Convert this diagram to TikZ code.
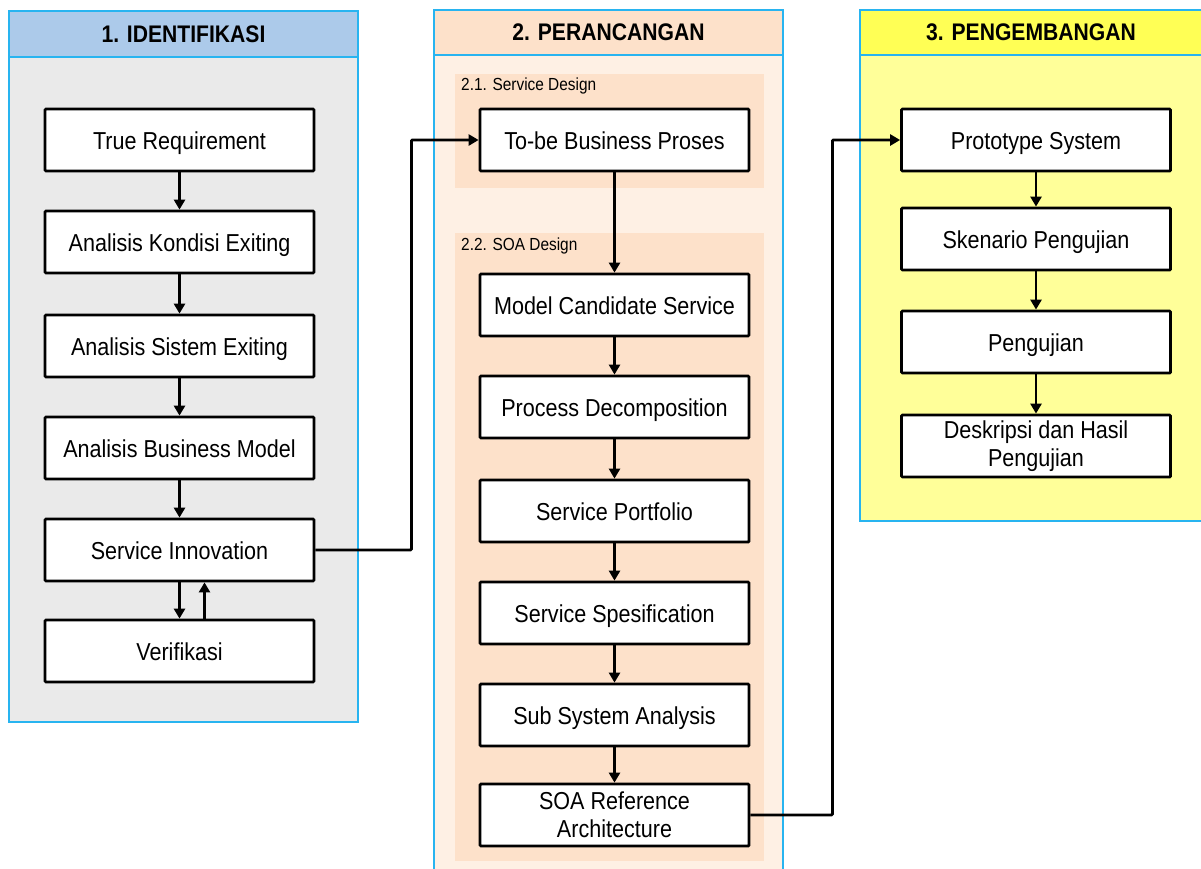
\documentclass[tikz,border=0pt]{standalone}
\usepackage{fontspec}
\setmainfont{Liberation Sans}[FakeStretch=0.88]
\usetikzlibrary{arrows.meta}
\definecolor{pborder}{RGB}{40,180,240}
\definecolor{hblue}{RGB}{172,202,234}
\definecolor{bgray}{RGB}{234,234,234}
\definecolor{hpeach}{RGB}{253,225,202}
\definecolor{bpeach}{RGB}{254,240,228}
\definecolor{hyellow}{RGB}{255,255,85}
\definecolor{byellow}{RGB}{255,255,153}
\begin{document}
\begin{tikzpicture}[x=1pt,y=-1pt,
  box/.style={draw=black, line width=2.8pt, fill=white, minimum width=269pt, minimum height=62pt, inner sep=0pt, align=center, font=\fontsize{24.5}{28}\selectfont, rounded corners=1pt},
  box1/.style={box, text height=19pt, text depth=0pt},
  conn/.style={line width=2.8pt, -{Triangle[length=10pt,width=11pt]}},
  hdr/.style={font=\bfseries\fontsize{24}{28}\selectfont},
  sublabel/.style={font=\fontsize{17.5}{20}\selectfont, anchor=west, inner sep=0pt},
  panel/.style={draw=pborder, line width=1.4pt}]
\useasboundingbox (0,0) rectangle (1201,868);
\begin{scope}
\clip (0,0) rectangle (1201,868);
% panel 1
\fill[hblue] (9,11) rectangle (358,57);
\fill[bgray] (9,57) rectangle (358,722);
\draw[panel] (9,11) rectangle (358,722);
\draw[panel] (9,57) -- (358,57);
% panel 2
\fill[hpeach] (434,10) rectangle (783,55);
\fill[bpeach] (434,55) rectangle (783,880);
\draw[panel] (434,10) rectangle (783,880);
\draw[panel] (434,55) -- (783,55);
\fill[hpeach] (455,74) rectangle (764,188);
\fill[hpeach] (455,233) rectangle (764,861);
% panel 3
\fill[hyellow] (860,10) rectangle (1206,55);
\fill[byellow] (860,55) rectangle (1206,521);
\draw[panel] (860,10) rectangle (1206,521);
\draw[panel] (860,55) -- (1206,55);
\end{scope}
% headers
\node[hdr] (h1) at (183.5,34) {1. IDENTIFIKASI};
\node[hdr] (h2) at (608.5,32) {2. PERANCANGAN};
\node[hdr] (h3) at (1031,32) {3. PENGEMBANGAN};
\node[sublabel] (s21) at (461,86) {2.1. Service Design};
\node[sublabel] (s22) at (461,246) {2.2. SOA Design};
% panel 1 boxes
\node[box1] (tr) at (179.5,140) {True Requirement};
\node[box1] (akx) at (179.5,242) {Analisis Kondisi Exiting};
\node[box1] (asx) at (179.5,346) {Analisis Sistem Exiting};
\node[box1] (abm) at (179.5,448) {Analisis Business Model};
\node[box1] (si) at (179.5,550) {Service Innovation};
\node[box1] (ver) at (179.5,651) {Verifikasi};
% panel 2 boxes
\node[box1] (tobe) at (614.5,140) {To-be Business Proses};
\node[box1] (mcs) at (614.5,305) {Model Candidate Service};
\node[box1] (pd) at (614.5,407) {Process Decomposition};
\node[box1] (sp) at (614.5,511) {Service Portfolio};
\node[box1] (ss) at (614.5,613) {Service Spesification};
\node[box1] (ssa) at (614.5,715) {Sub System Analysis};
\node[box] (soa) at (614.5,815) {SOA Reference\\Architecture};
% panel 3 boxes
\node[box1] (ps) at (1036,140) {Prototype System};
\node[box1] (sk) at (1036,239) {Skenario Pengujian};
\node[box1] (pg) at (1036,342) {Pengujian};
\node[box] (dh) at (1036,446) {Deskripsi dan Hasil\\Pengujian};
% connectors panel 1
\draw[conn] (tr) -- (akx);
\draw[conn] (akx) -- (asx);
\draw[conn] (asx) -- (abm);
\draw[conn] (abm) -- (si);
\draw[conn] (si.south) -- (ver.north);
\draw[conn] ([xshift=25pt]ver.north) -- ([xshift=25pt]si.south);
% panel 2
\draw[conn] (tobe) -- (mcs);
\draw[conn] (mcs) -- (pd);
\draw[conn] (pd) -- (sp);
\draw[conn] (sp) -- (ss);
\draw[conn] (ss) -- (ssa);
\draw[conn] (ssa) -- (soa);
% panel 3
\draw[conn] (ps) -- (sk);
\draw[conn] (sk) -- (pg);
\draw[conn] (pg) -- (dh);
% cross connectors
\draw[conn, rounded corners=1pt] (si.east) -- ++(96,0) |- (tobe.west);
\draw[conn, rounded corners=1pt] (soa.east) -- ++(82,0) |- (ps.west);
\end{tikzpicture}
\end{document}
